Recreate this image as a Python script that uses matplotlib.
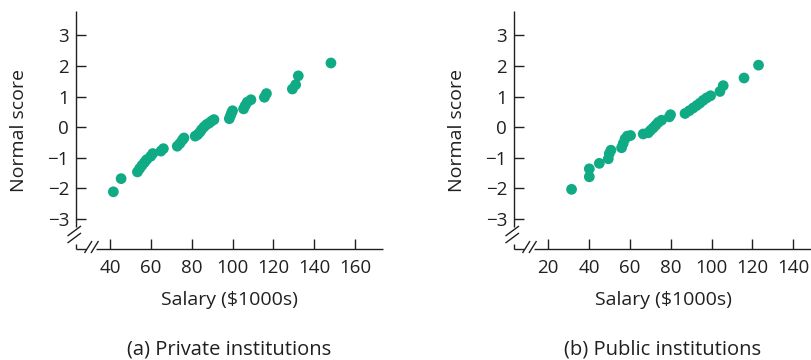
import matplotlib
matplotlib.use('Agg')
import matplotlib.pyplot as plt
from matplotlib.transforms import Affine2D, ScaledTranslation

# salaries ($1000s) and normal scores
private_salary = [41.6, 45.4, 53.4, 54.5, 55.6, 56.8, 57.9, 59.9, 60.9, 64.9, 66.1,
                  72.9, 74.2, 75.4, 76.2, 81.7, 82.9, 84.0, 84.8, 86.0, 87.3, 88.6,
                  89.7, 90.9, 98.4, 99.0, 99.5, 100.0, 105.4, 106.2, 107.2, 109.0,
                  115.6, 116.6, 129.3, 130.9, 132.2, 148.2]
private_score = [-2.11, -1.68, -1.46, -1.35, -1.25, -1.15, -1.06, -0.95, -0.86, -0.78, -0.70,
                 -0.62, -0.53, -0.42, -0.35, -0.29, -0.24, -0.16, -0.08, 0.01, 0.09, 0.14,
                 0.20, 0.25, 0.28, 0.38, 0.47, 0.54, 0.60, 0.71, 0.82, 0.90,
                 0.98, 1.10, 1.25, 1.39, 1.68, 2.10]

public_salary = [31.4, 40.1, 40.1, 45.0, 49.4, 49.9, 50.7, 55.9, 56.7, 57.6, 58.7, 60.3,
                 66.5, 69.0, 70.1, 71.4, 72.7, 73.9, 75.5, 79.3, 79.9,
                 87.0, 89.1, 91.0, 92.7, 94.3, 95.9, 97.6, 99.5, 104.1, 105.7,
                 115.9, 123.0]
public_score = [-2.03, -1.62, -1.36, -1.18, -1.03, -0.86, -0.75, -0.67, -0.53, -0.38, -0.29, -0.27,
                -0.22, -0.18, -0.10, -0.02, 0.07, 0.16, 0.23, 0.34, 0.41,
                0.45, 0.54, 0.63, 0.71, 0.79, 0.88, 0.96, 1.03, 1.17, 1.36,
                1.61, 2.03]

private_xticks = [40, 60, 80, 100, 120, 140, 160]
public_xticks = [20, 40, 60, 80, 100, 120, 140]
yticks = [-3, -2, -1, 0, 1, 2, 3]

DOT = '#10aa84'
INK = '#231f20'
W, H, DPI = 812, 360, 100

plt.rcParams['font.family'] = ['Open Sans', 'DejaVu Sans']

fig = plt.figure(figsize=(W / DPI, H / DPI), dpi=DPI)


def px_axes(left, top, right, bottom):
    # axes box given in image pixels
    return fig.add_axes([left / W, 1 - bottom / H, (right - left) / W, (bottom - top) / H])


def broken_frame(ax, w, h):
    # axis lines with the little // break marks, coordinates in px from the axes corner
    tr = Affine2D().scale(DPI / 100) + ScaledTranslation(0, 0, ax.transAxes)
    kw = dict(color=INK, lw=1.0, transform=tr, clip_on=False, solid_capstyle='butt')
    ax.plot([0, 0], [22, h], **kw)
    ax.plot([0, 0], [0, 5], **kw)
    ax.plot([0, 10.5], [0, 0], **kw)
    ax.plot([20, w], [0, 0], **kw)
    ax.plot([-8.5, 5], [13, 23], **kw)
    ax.plot([-8.5, 5], [6, 16], **kw)
    ax.plot([8.5, 16], [-4, 8], **kw)
    ax.plot([15, 22.5], [-4, 8], **kw)


def panel(box, xs, ys, xlim, xticks, caption):
    left, top, right, bottom = box
    ax = px_axes(left, top, right, bottom)
    ax.scatter(xs, ys, s=60, color=DOT, edgecolors='none', zorder=3, clip_on=False)
    ax.set_xlim(*xlim)
    ax.set_ylim(-3.98, 3.8)
    ax.set_xticks(xticks)
    ax.set_yticks(yticks)
    for s in ax.spines.values():
        s.set_visible(False)
    ax.tick_params(direction='in', length=7.2, width=1.0, color=INK,
                   labelsize=13.5, labelcolor=INK)
    ax.tick_params(axis='y', pad=5)
    ax.tick_params(axis='x', pad=7.5)
    ax.set_xlabel('Salary ($1000s)', fontsize=14, color=INK, labelpad=10)
    ax.set_ylabel('Normal score', fontsize=14, color=INK, labelpad=14)
    broken_frame(ax, right - left, bottom - top)
    fig.text((left + right) / 2 / W, 1 - 349 / H, caption, ha='center', va='center',
             fontsize=14.5, color=INK)
    return ax


panel((76, 11, 383, 249), private_salary, private_score, (23.3, 173.7),
      private_xticks, '(a) Private institutions')
panel((514, 11, 812, 249), public_salary, public_score, (3.2, 149.2),
      public_xticks, '(b) Public institutions')

fig.savefig('out.png', dpi=DPI)
